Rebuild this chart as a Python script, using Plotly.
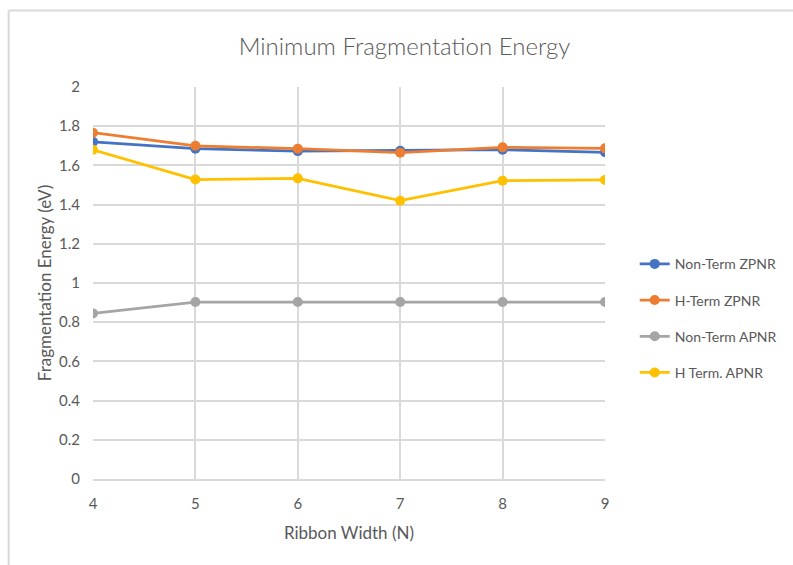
import plotly.graph_objects as go

ribbon_width = [4, 5, 6, 7, 8, 9]
non_term_zpnr = [1.72, 1.685, 1.673, 1.675, 1.68, 1.667]
h_term_zpnr = [1.767, 1.70, 1.685, 1.665, 1.692, 1.687]
non_term_apnr = [0.845, 0.903, 0.903, 0.903, 0.903, 0.903]
h_term_apnr = [1.68, 1.528, 1.534, 1.42, 1.522, 1.526]

series = [
    ("Non-Term ZPNR", non_term_zpnr, "#4472C4"),
    ("H-Term ZPNR", h_term_zpnr, "#ED7D31"),
    ("Non-Term APNR", non_term_apnr, "#A5A5A5"),
    ("H Term. APNR", h_term_apnr, "#FFC000"),
]

FONT = "Lato"
TXT = "#595959"
GRID = "#d9d9d9"

fig = go.Figure()
for name, vals, col in series:
    fig.add_trace(go.Scatter(
        x=ribbon_width, y=vals, name=name, mode="lines+markers",
        legendgroup=name,
        line=dict(color=col, width=2.75),
        marker=dict(color=col, size=10),
    ))

fig.update_layout(
    width=793, height=565,
    margin=dict(l=93, r=187, t=87, b=86),
    paper_bgcolor="white", plot_bgcolor="white",
    font=dict(family=FONT, color=TXT, size=14),
    title=dict(text="Minimum Fragmentation Energy", x=0.51, xanchor="center",
               y=0.917, yanchor="middle",
               font=dict(family=FONT, size=24, color=TXT, weight=300)),
    showlegend=True,
    legend=dict(x=1.056, y=0.41, xanchor="left", yanchor="middle",
                font=dict(size=14, color=TXT), tracegroupgap=15,
                itemwidth=30, bgcolor="rgba(0,0,0,0)",
                borderwidth=0),
    xaxis=dict(
        range=[4, 9], tickmode="array", tickvals=ribbon_width,
        showgrid=True, gridcolor=GRID, gridwidth=1.5,
        showline=True, linecolor=GRID, linewidth=1.5, mirror=False,
        zeroline=False, ticks="", ticklabelstandoff=10,
        title=dict(text="Ribbon Width (N)", standoff=16,
                   font=dict(size=17, color=TXT)),
        tickfont=dict(size=15, color=TXT),
    ),
    yaxis=dict(
        range=[0, 2], dtick=0.2, tickformat="~g",
        showgrid=True, gridcolor=GRID, gridwidth=1.5,
        zeroline=False, showline=False, ticks="", ticklabelstandoff=12,
        title=dict(text="Fragmentation Energy (eV)", standoff=3,
                   font=dict(size=17, color=TXT)),
        tickfont=dict(size=15, color=TXT),
    ),
)

# outer chart border (left and top edges visible in reference)
fig.add_shape(type="line", xref="paper", yref="paper",
              x0=(8.5 - 93) / 513, x1=(8.5 - 93) / 513,
              y0=(479 - 10.5) / 392, y1=(479 - 600) / 392,
              line=dict(color=GRID, width=2))
fig.add_shape(type="line", xref="paper", yref="paper",
              x0=(8.5 - 93) / 513, x1=(800 - 93) / 513,
              y0=(479 - 10.5) / 392, y1=(479 - 10.5) / 392,
              line=dict(color=GRID, width=2))

fig.write_html("out.html")
